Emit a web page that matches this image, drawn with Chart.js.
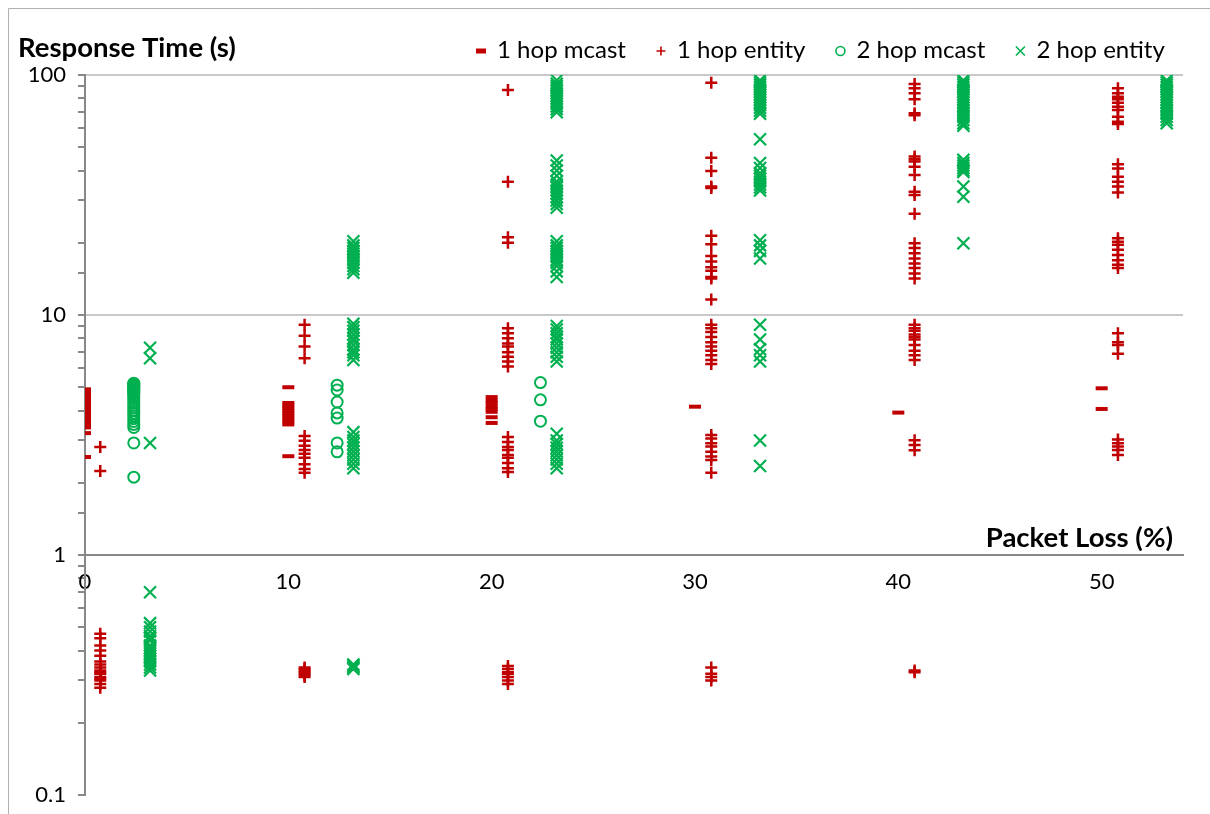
<!DOCTYPE html>
<html>
<head>
<meta charset="utf-8">
<style>
html,body{margin:0;padding:0;background:#ffffff;}
canvas{display:block;}
</style>
<script src="https://cdn.jsdelivr.net/npm/chart.js"></script>
</head>
<body>
<canvas id="c" width="1210" height="814"></canvas>
<script>
// ---------------- data ----------------
const xTickValues = [0, 10, 20, 30, 40, 50];
const yTickValues = [0.1, 1, 10, 100];
const seriesNames = ['1 hop mcast', '1 hop entity', '2 hop mcast', '2 hop entity'];

const hop1McastX = [0, 10, 20, 30, 40, 50];
const hop1McastTimes = [
  [4.9, 4.8, 4.7, 4.6, 4.5, 4.4, 4.3, 4.2, 4.1, 4.0, 3.9, 3.8, 3.7, 3.6, 3.5, 3.4, 3.22, 2.56],
  [5.0, 4.3, 4.2, 4.1, 4.0, 3.9, 3.8, 3.7, 3.6, 3.5, 2.58],
  [4.55, 4.4, 4.3, 4.15, 4.05, 3.95, 3.75, 3.55],
  [4.15],
  [3.92],
  [4.95, 4.06]
];

const hop1EntityX = [0.75, 10.8, 20.8, 30.8, 40.8, 50.8];
const hop1EntityTimes = [
  [2.82, 2.24, 0.47, 0.45, 0.42, 0.40, 0.38, 0.36, 0.35, 0.34, 0.33, 0.325, 0.32, 0.31, 0.305, 0.30, 0.29, 0.28],
  [9.1, 8.2, 7.4, 6.6, 3.13, 2.99, 2.85, 2.74, 2.64, 2.54, 2.39, 2.28, 2.2, 0.34, 0.335, 0.33, 0.325, 0.32, 0.315, 0.31],
  [86.6, 35.9, 21.1, 20.0, 8.8, 8.4, 8.0, 7.6, 7.4, 7.0, 6.7, 6.4, 6.1, 3.1, 2.96, 2.82, 2.74, 2.61, 2.54, 2.42, 2.3, 2.22, 0.345, 0.335, 0.325, 0.32, 0.31, 0.30, 0.29],
  [92.9, 45.2, 39.8, 34.3, 33.8, 21.4, 19.7, 17.6, 16.7, 15.8, 15.3, 14.4, 14.2, 11.6, 9.1, 8.8, 8.5, 8.1, 7.7, 7.4, 7.1, 6.8, 6.5, 6.25, 3.16, 3.06, 2.92, 2.83, 2.69, 2.57, 2.49, 2.2, 0.34, 0.32, 0.31, 0.30],
  [91.7, 88.1, 83.9, 79.2, 69.2, 68, 45.7, 44.6, 43.6, 41.5, 38.3, 32.6, 31.6, 26.4, 19.9, 19.0, 18.1, 17.2, 16.4, 15.7, 14.9, 14.2, 9.1, 8.8, 8.6, 8.3, 8.1, 7.9, 7.5, 7.1, 6.8, 6.5, 3.01, 2.87, 2.73, 0.33, 0.325],
  [88.1, 83.9, 81.2, 79.2, 76.7, 73.8, 71.4, 67.0, 63.8, 62.5, 42.5, 40.8, 37.7, 35.9, 34.3, 32.4, 20.9, 20.2, 19.6, 18.7, 17.8, 16.9, 16.2, 15.7, 8.4, 7.7, 7.5, 6.9, 3.03, 2.92, 2.83, 2.74, 2.61]
];

const hop2McastX = [2.4, 12.4, 22.4];
const hop2McastTimes = [
  [5.2, 5.15, 5.1, 5.05, 5.0, 4.95, 4.9, 4.85, 4.8, 4.75, 4.7, 4.6, 4.5, 4.4, 4.3, 4.2, 4.1, 4.0, 3.9, 3.8, 3.7, 3.6, 3.5, 3.4, 2.93, 2.11],
  [5.1, 4.87, 4.34, 3.91, 3.72, 2.93, 2.69],
  [5.23, 4.43, 3.61]
];

const hop2EntityX = [3.2, 13.2, 23.2, 33.2, 43.2, 53.2];
const hop2EntityTimes = [
  [7.3, 6.6, 2.93, 0.70, 0.52, 0.50, 0.48, 0.46, 0.45, 0.44, 0.42, 0.41, 0.40, 0.39, 0.38, 0.37, 0.36, 0.35, 0.34, 0.33],
  [20.3, 19.5, 19, 18.5, 18, 17.5, 17, 16.5, 16, 15.5, 15, 9.2, 8.9, 8.6, 8.3, 8.0, 7.8, 7.5, 7.2, 7.0, 6.8, 6.5, 3.25, 3.1, 3.0, 2.9, 2.8, 2.7, 2.6, 2.5, 2.4, 2.3, 0.35, 0.345, 0.34, 0.335],
  [95, 92, 90, 88, 86, 84, 82, 80, 78, 76, 74, 72, 70, 44, 42, 40, 38, 36, 35, 34, 33, 32, 31, 30, 29, 28, 20.3, 19.5, 19, 18.5, 18, 17.5, 17, 16.5, 16, 15.2, 14.4, 9.0, 8.7, 8.4, 8.1, 7.9, 7.6, 7.3, 7.0, 6.7, 6.4, 3.2, 3.0, 2.9, 2.8, 2.7, 2.6, 2.5, 2.4, 2.3],
  [95, 93, 91, 89, 87, 85, 83, 81, 79, 77, 75, 73, 71, 69, 54, 43, 41, 39, 38, 37, 36, 35, 34, 33, 20.5, 19.5, 18.5, 17.2, 9.1, 7.9, 7.2, 6.8, 6.4, 3.0, 2.35],
  [95, 93, 91, 89, 87, 85, 83, 81, 79, 77, 75, 73, 71, 69, 67, 65, 63, 61.5, 44.3, 43, 42, 41, 40, 39.4, 34.3, 31.1, 19.9],
  [95, 93, 91, 89, 87, 85, 83, 81, 79, 77, 75, 73, 71, 69, 67, 65, 63]
];

// ---------------- styling ----------------
const RED = '#C00000';
const GREEN = '#00B050';
const AXIS = '#888888';
const GRID = '#c8c8c8';
const FONT = 'Lato, "Open Sans", sans-serif';

function toPoints(xs, times) {
  return xs.flatMap((x, i) => times[i].map(y => ({x: x, y: y})));
}
function isDecade(v) {
  const l = Math.log10(v);
  return Math.abs(l - Math.round(l)) < 1e-6;
}

const markerDefs = [
  {style: 'line', color: RED, radius: 6, width: 4},
  {style: 'cross', color: RED, radius: 6, width: 2.5},
  {style: 'circle', color: GREEN, radius: 5.5, width: 2},
  {style: 'crossRot', color: GREEN, radius: 8.5, width: 2.2}
];

function drawMarker(ctx, style, x, y, r) {
  ctx.beginPath();
  if (style === 'line') {
    ctx.moveTo(x - r, y); ctx.lineTo(x + r, y);
  } else if (style === 'cross') {
    ctx.moveTo(x - r, y); ctx.lineTo(x + r, y);
    ctx.moveTo(x, y - r); ctx.lineTo(x, y + r);
  } else if (style === 'circle') {
    ctx.arc(x, y, r, 0, Math.PI * 2);
  } else {
    ctx.moveTo(x - r, y - r); ctx.lineTo(x + r, y + r);
    ctx.moveTo(x - r, y + r); ctx.lineTo(x + r, y - r);
  }
  ctx.stroke();
}

function fitSize(ctx, text, weight, target) {
  ctx.font = weight + ' 100px ' + FONT;
  return 100 * target / ctx.measureText(text).width;
}

const decorPlugin = {
  id: 'decor',
  beforeDraw(chart) {
    const ctx = chart.ctx;
    ctx.save();
    ctx.fillStyle = '#ffffff';
    ctx.fillRect(0, 0, chart.width, chart.height);
    ctx.strokeStyle = '#b0b0b0';
    ctx.lineWidth = 1;
    ctx.beginPath();
    ctx.moveTo(8.5, chart.height); ctx.lineTo(8.5, 8.5); ctx.lineTo(chart.width, 8.5);
    ctx.stroke();
    ctx.restore();
  },
  afterDraw(chart) {
    const ctx = chart.ctx;
    const area = chart.chartArea;
    ctx.save();
    ctx.fillStyle = '#000000';
    ctx.textBaseline = 'middle';
    // axis titles
    const tSize = fitSize(ctx, 'Response Time (s)', 'bold', 218);
    ctx.font = 'bold ' + tSize + 'px ' + FONT;
    ctx.textAlign = 'left';
    ctx.fillText('Response Time (s)', 18, 48);
    ctx.textAlign = 'right';
    ctx.fillText('Packet Loss (%)', area.right - 10, 538);
    // legend
    const lSize = fitSize(ctx, seriesNames[0], 'normal', 129);
    ctx.font = lSize + 'px ' + FONT;
    ctx.textAlign = 'left';
    let x = 481;
    const ly = 50;
    seriesNames.forEach((name, i) => {
      const m = markerDefs[i];
      ctx.strokeStyle = m.color;
      ctx.lineWidth = i === 0 ? 5 : 1.6;
      const r = i === 0 ? 5 : 4.5;
      drawMarker(ctx, m.style, x, ly + 1, r);
      ctx.fillStyle = '#000000';
      ctx.fillText(name, x + 16, ly);
      x += 16 + ctx.measureText(name).width + 35;
    });
    ctx.restore();
  }
};

const datasets = [
  toPoints(hop1McastX, hop1McastTimes),
  toPoints(hop1EntityX, hop1EntityTimes),
  toPoints(hop2McastX, hop2McastTimes),
  toPoints(hop2EntityX, hop2EntityTimes)
].map((pts, i) => ({
  label: seriesNames[i],
  data: pts,
  showLine: false,
  pointStyle: markerDefs[i].style,
  pointRadius: markerDefs[i].radius,
  pointHoverRadius: markerDefs[i].radius,
  pointBorderWidth: markerDefs[i].width,
  pointBorderColor: markerDefs[i].color,
  pointBackgroundColor: markerDefs[i].style === 'circle' ? 'rgba(0,0,0,0)' : markerDefs[i].color,
  borderColor: markerDefs[i].color,
  backgroundColor: markerDefs[i].color,
  order: 4 - i
}));

new Chart(document.getElementById('c'), {
  type: 'scatter',
  data: {datasets: datasets},
  plugins: [decorPlugin],
  options: {
    responsive: false,
    animation: false,
    devicePixelRatio: 1,
    layout: {padding: {left: 0, top: 75, right: 27, bottom: 19}},
    plugins: {legend: {display: false}, tooltip: {enabled: false}, title: {display: false}},
    scales: {
      x: {
        type: 'linear',
        position: {y: 1},
        min: 0,
        max: 54,
        afterBuildTicks: s => { s.ticks = xTickValues.map(v => ({value: v})); },
        afterFit: s => { s.paddingLeft = 0; s.paddingRight = 0; s.paddingTop = 0; s.paddingBottom = 0; },
        grid: {display: false, drawTicks: false},
        border: {display: true, color: AXIS, width: 2},
        ticks: {font: {family: FONT, size: 22}, color: '#000000', padding: 14, maxRotation: 0, autoSkip: false}
      },
      y: {
        type: 'logarithmic',
        position: 'left',
        min: 0.1,
        max: 100,
        afterFit: s => { s.width = 85; s.paddingTop = 0; s.paddingBottom = 0; },
        grid: {
          color: c => (c.tick && isDecade(c.tick.value) && c.tick.value > 1.5) ? GRID : 'rgba(0,0,0,0)',
          lineWidth: 2,
          tickColor: AXIS,
          tickLength: 7,
          tickWidth: 2
        },
        border: {display: true, color: AXIS, width: 2},
        ticks: {
          autoSkip: false,
          font: {family: FONT, size: 22},
          color: '#000000',
          padding: 12,
          callback: v => {
            const t = yTickValues.find(tv => Math.abs(tv - v) < tv * 1e-6);
            return t === undefined ? '' : String(t);
          }
        }
      }
    }
  }
});
</script>
</body>
</html>
